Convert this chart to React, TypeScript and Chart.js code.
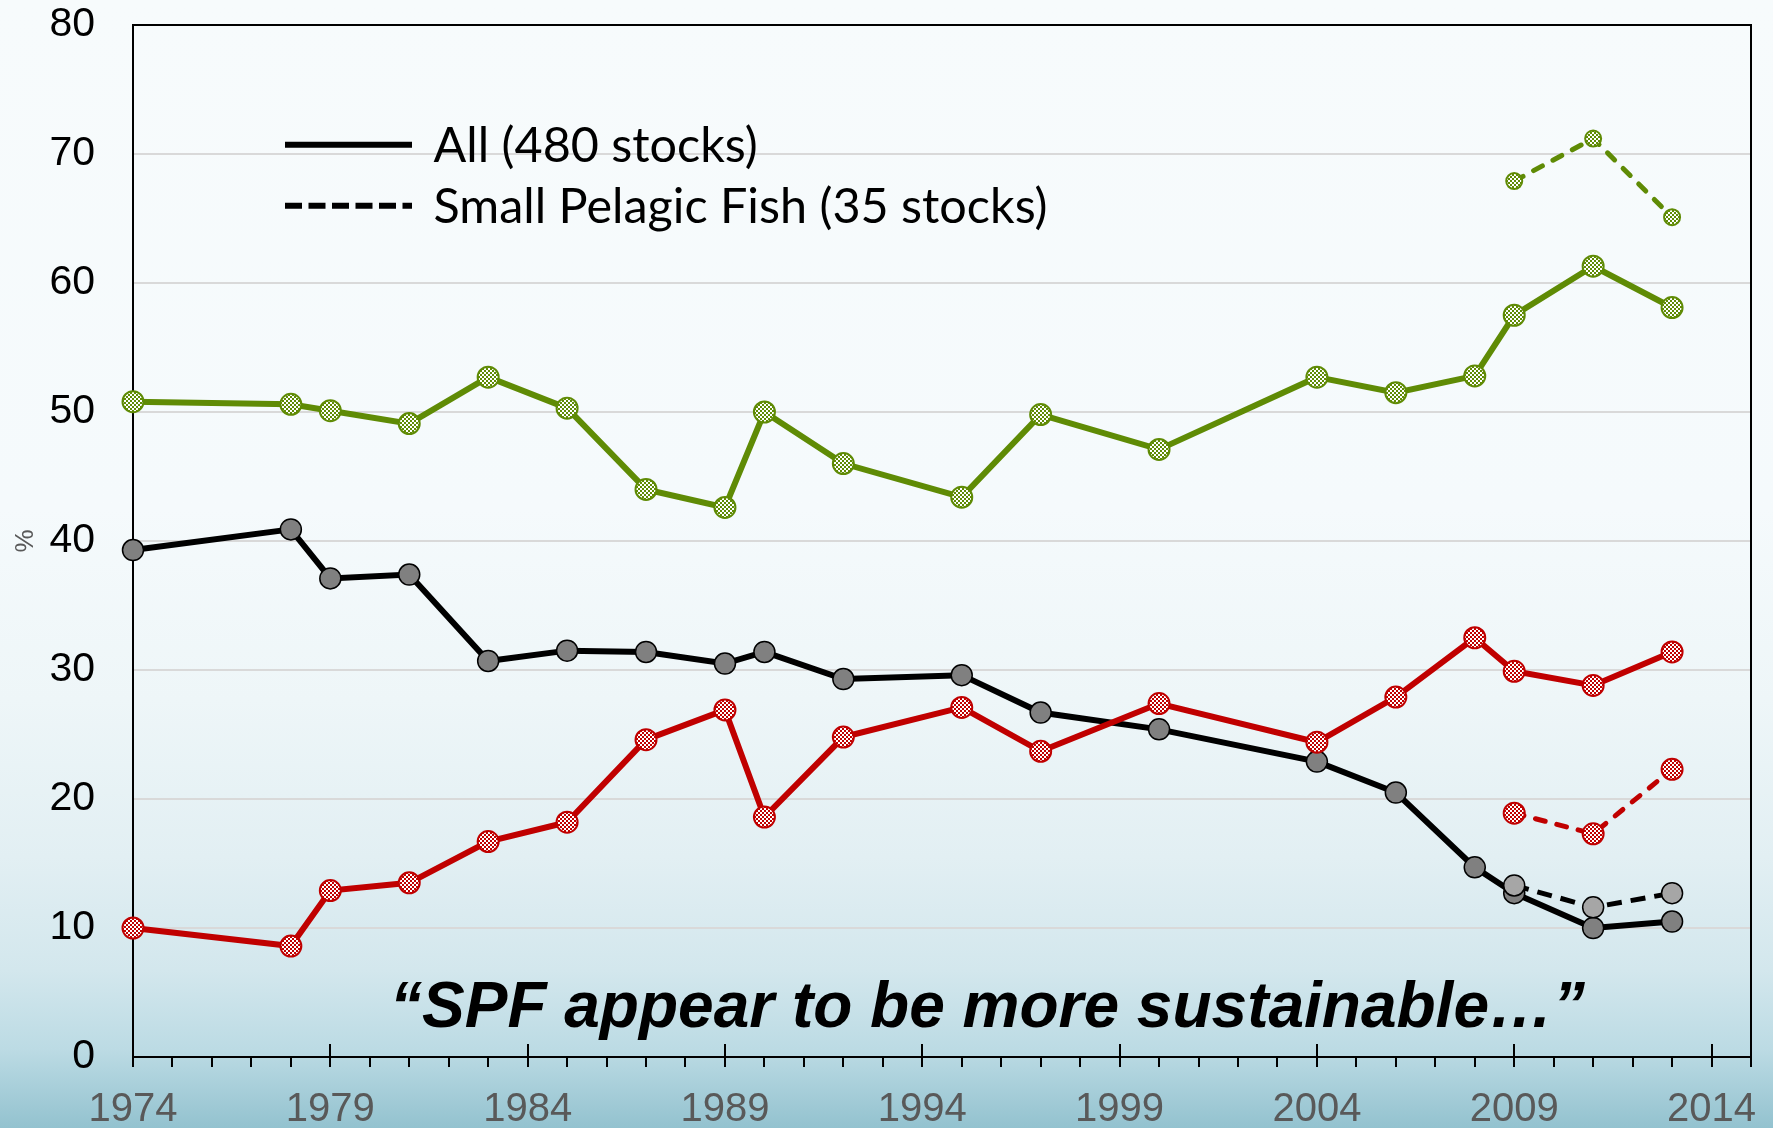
import React, { useEffect, useRef } from 'react';
import { Chart, registerables } from 'chart.js';

Chart.register(...registerables);

// ---- Data ----
const years = [1974, 1978, 1979, 1981, 1983, 1985, 1987, 1989, 1990, 1992, 1995, 1997, 2000, 2004, 2006, 2008, 2009, 2011, 2013];
const allGreen = [50.8, 50.6, 50.1, 49.1, 52.7, 50.3, 44.0, 42.6, 50.0, 46.0, 43.4, 49.8, 47.1, 52.7, 51.5, 52.8, 57.5, 61.3, 58.1];
const allBlack = [39.3, 40.9, 37.1, 37.4, 30.7, 31.5, 31.4, 30.5, 31.4, 29.3, 29.6, 26.7, 25.4, 22.9, 20.5, 14.7, 12.7, 10.0, 10.5];
const allRed = [10.0, 8.6, 12.9, 13.5, 16.7, 18.2, 24.6, 26.9, 18.6, 24.8, 27.1, 23.7, 27.4, 24.4, 27.9, 32.5, 29.9, 28.8, 31.4];

const spfYears = [2009, 2011, 2013];
const spfGreen = [67.9, 71.2, 65.1];
const spfBlack = [13.3, 11.6, 12.7];
const spfRed = [18.9, 17.3, 22.3];

const xTickLabels = [1974, 1979, 1984, 1989, 1994, 1999, 2004, 2009, 2014];
const yTickValues = [0, 10, 20, 30, 40, 50, 60, 70, 80];
const legendLabels = ['All (480 stocks)', 'Small Pelagic Fish (35 stocks)'];
const quoteText = '\u201CSPF appear to be more sustainable\u2026\u201D';
const yAxisTitle = '%';

const GREEN = '#5f8b05';
const RED = '#c00000';

function toPoints(xs: number[], ys: number[]) {
  return xs.map((x, i) => ({ x, y: ys[i] }));
}

function makePattern(color: string): CanvasPattern | string {
  const c = document.createElement('canvas');
  c.width = 4;
  c.height = 4;
  const g = c.getContext('2d');
  if (!g) return color;
  g.fillStyle = color;
  g.fillRect(0, 0, 4, 4);
  g.fillStyle = '#ffffff';
  g.fillRect(0, 0, 2, 2);
  g.fillRect(2, 2, 2, 2);
  return g.createPattern(c, 'repeat') || color;
}

const decorPlugin = {
  id: 'decor',
  beforeDatasetsDraw(chart: any) {
    const { ctx, chartArea: a, scales } = chart;
    ctx.save();
    ctx.strokeStyle = '#000';
    ctx.lineWidth = 2;
    ctx.strokeRect(a.left, a.top, a.right - a.left, a.bottom - a.top);
    const xs = scales.x;
    xTickLabels.forEach((v) => {
      const px = Math.round(xs.getPixelForValue(v));
      ctx.beginPath();
      ctx.moveTo(px, a.bottom);
      ctx.lineTo(px, a.bottom - 13);
      ctx.stroke();
    });
    ctx.restore();
  },
  afterDraw(chart: any) {
    const { ctx, chartArea: a } = chart;
    ctx.save();
    // legend
    const x0 = a.left + 152;
    const x1 = a.left + 279;
    const rows = [a.top + 119.7, a.top + 180.8];
    ctx.strokeStyle = '#000';
    ctx.lineWidth = 6;
    ctx.lineCap = 'butt';
    rows.forEach((ry, i) => {
      ctx.setLineDash(i === 0 ? [] : [17, 6.5]);
      ctx.beginPath();
      ctx.moveTo(x0, ry);
      ctx.lineTo(x1, ry);
      ctx.stroke();
    });
    ctx.setLineDash([]);
    ctx.fillStyle = '#000';
    ctx.font = '48.5px Lato';
    ctx.textAlign = 'left';
    ctx.textBaseline = 'alphabetic';
    ctx.fillText(legendLabels[0], a.left + 300.5, rows[0] + 17.5);
    ctx.fillText(legendLabels[1], a.left + 300.5, rows[1] + 17.5);
    // quote
    ctx.font = 'italic bold 64px "Liberation Sans"';
    ctx.fillText(quoteText, a.left + 257, a.bottom - 30);
    ctx.restore();
  },
};

export default function App() {
  const ref = useRef<HTMLCanvasElement | null>(null);

  useEffect(() => {
    const canvas = ref.current;
    if (!canvas) return;
    const greenPat = makePattern(GREEN);
    const redPat = makePattern(RED);

    const chart = new Chart(canvas, {
      type: 'line',
      data: {
        datasets: [
          {
            label: 'SPF green',
            data: toPoints(spfYears, spfGreen),
            borderColor: GREEN,
            borderWidth: 5,
            borderDash: [10, 12],
            borderCapStyle: 'round',
            pointRadius: 8,
            pointBorderWidth: 2,
            pointBorderColor: GREEN,
            pointBackgroundColor: greenPat as any,
            order: 0,
          },
          {
            label: 'SPF red',
            data: toPoints(spfYears, spfRed),
            borderColor: RED,
            borderWidth: 5,
            borderDash: [10, 12],
            borderCapStyle: 'round',
            pointRadius: 10.5,
            pointBorderWidth: 2,
            pointBorderColor: RED,
            pointBackgroundColor: redPat as any,
            order: 0,
          },
          {
            label: 'SPF black',
            data: toPoints(spfYears, spfBlack),
            borderColor: '#000',
            borderWidth: 5,
            borderDash: [15, 9],
            pointRadius: 10.5,
            pointBorderWidth: 1.5,
            pointBorderColor: '#000',
            pointBackgroundColor: '#a6a6a6',
            order: 0,
          },
          {
            label: 'All red',
            data: toPoints(years, allRed),
            borderColor: RED,
            borderWidth: 6,
            pointRadius: 10.5,
            pointBorderWidth: 2,
            pointBorderColor: RED,
            pointBackgroundColor: redPat as any,
            order: 1,
          },
          {
            label: 'All green',
            data: toPoints(years, allGreen),
            borderColor: GREEN,
            borderWidth: 6,
            pointRadius: 10.5,
            pointBorderWidth: 2,
            pointBorderColor: GREEN,
            pointBackgroundColor: greenPat as any,
            order: 2,
          },
          {
            label: 'All black',
            data: toPoints(years, allBlack),
            borderColor: '#000',
            borderWidth: 6,
            pointRadius: 10.5,
            pointBorderWidth: 1.5,
            pointBorderColor: '#000',
            pointBackgroundColor: '#808080',
            order: 3,
          },
        ],
      },
      options: {
        responsive: false,
        animation: false,
        devicePixelRatio: 1,
        events: [],
        layout: { padding: { top: 25, right: 22, left: 0, bottom: 0 } },
        elements: { line: { tension: 0 } },
        datasets: { line: { clip: false as any } },
        plugins: {
          legend: { display: false },
          tooltip: { enabled: false },
          title: { display: false },
        },
        scales: {
          x: {
            type: 'linear',
            min: 1974,
            max: 2015,
            afterFit: (s: any) => {
              s.height = 71;
              s.paddingLeft = 0;
              s.paddingRight = 0;
            },
            border: { display: true, color: '#000', width: 2 },
            grid: {
              display: true,
              drawOnChartArea: false,
              drawTicks: true,
              tickLength: 10,
              color: '#000',
              lineWidth: 2,
            },
            ticks: {
              stepSize: 1,
              autoSkip: false,
              maxRotation: 0,
              minRotation: 0,
              padding: 19,
              color: '#595959',
              font: { family: '"Liberation Sans", Arial, sans-serif', size: 40 },
              callback: (v: any) => (xTickLabels.includes(Number(v)) ? String(v) : ''),
            },
          },
          y: {
            type: 'linear',
            min: yTickValues[0],
            max: yTickValues[yTickValues.length - 1],
            afterFit: (s: any) => {
              s.width = 133;
              s.paddingTop = 0;
              s.paddingBottom = 0;
            },
            border: { display: true, color: '#000', width: 2 },
            grid: {
              display: true,
              drawTicks: false,
              color: '#d9d9d9',
              lineWidth: 2,
            },
            title: {
              display: true,
              text: yAxisTitle,
              color: '#595959',
              font: { family: '"Liberation Sans", Arial, sans-serif', size: 26 },
              padding: { top: 10, bottom: 0 },
            },
            ticks: {
              stepSize: 10,
              padding: 38,
              color: '#000',
              font: { family: '"Liberation Sans", Arial, sans-serif', size: 41 },
            },
          },
        },
      },
      plugins: [decorPlugin],
    } as any);

    return () => chart.destroy();
  }, []);

  return (
    <div
      style={{
        position: 'fixed',
        left: 0,
        top: 0,
        width: 1773,
        height: 1128,
        overflow: 'hidden',
        background:
          'linear-gradient(180deg, #f7fbfc 0%, #f5fafc 45%, #eef6f8 62%, #e2eff3 76%, #d3e7ed 86%, #bcdbe4 93%, #93c2cf 100%)',
      }}
    >
      <canvas ref={ref} width={1773} height={1128} style={{ display: 'block' }} />
    </div>
  );
}
